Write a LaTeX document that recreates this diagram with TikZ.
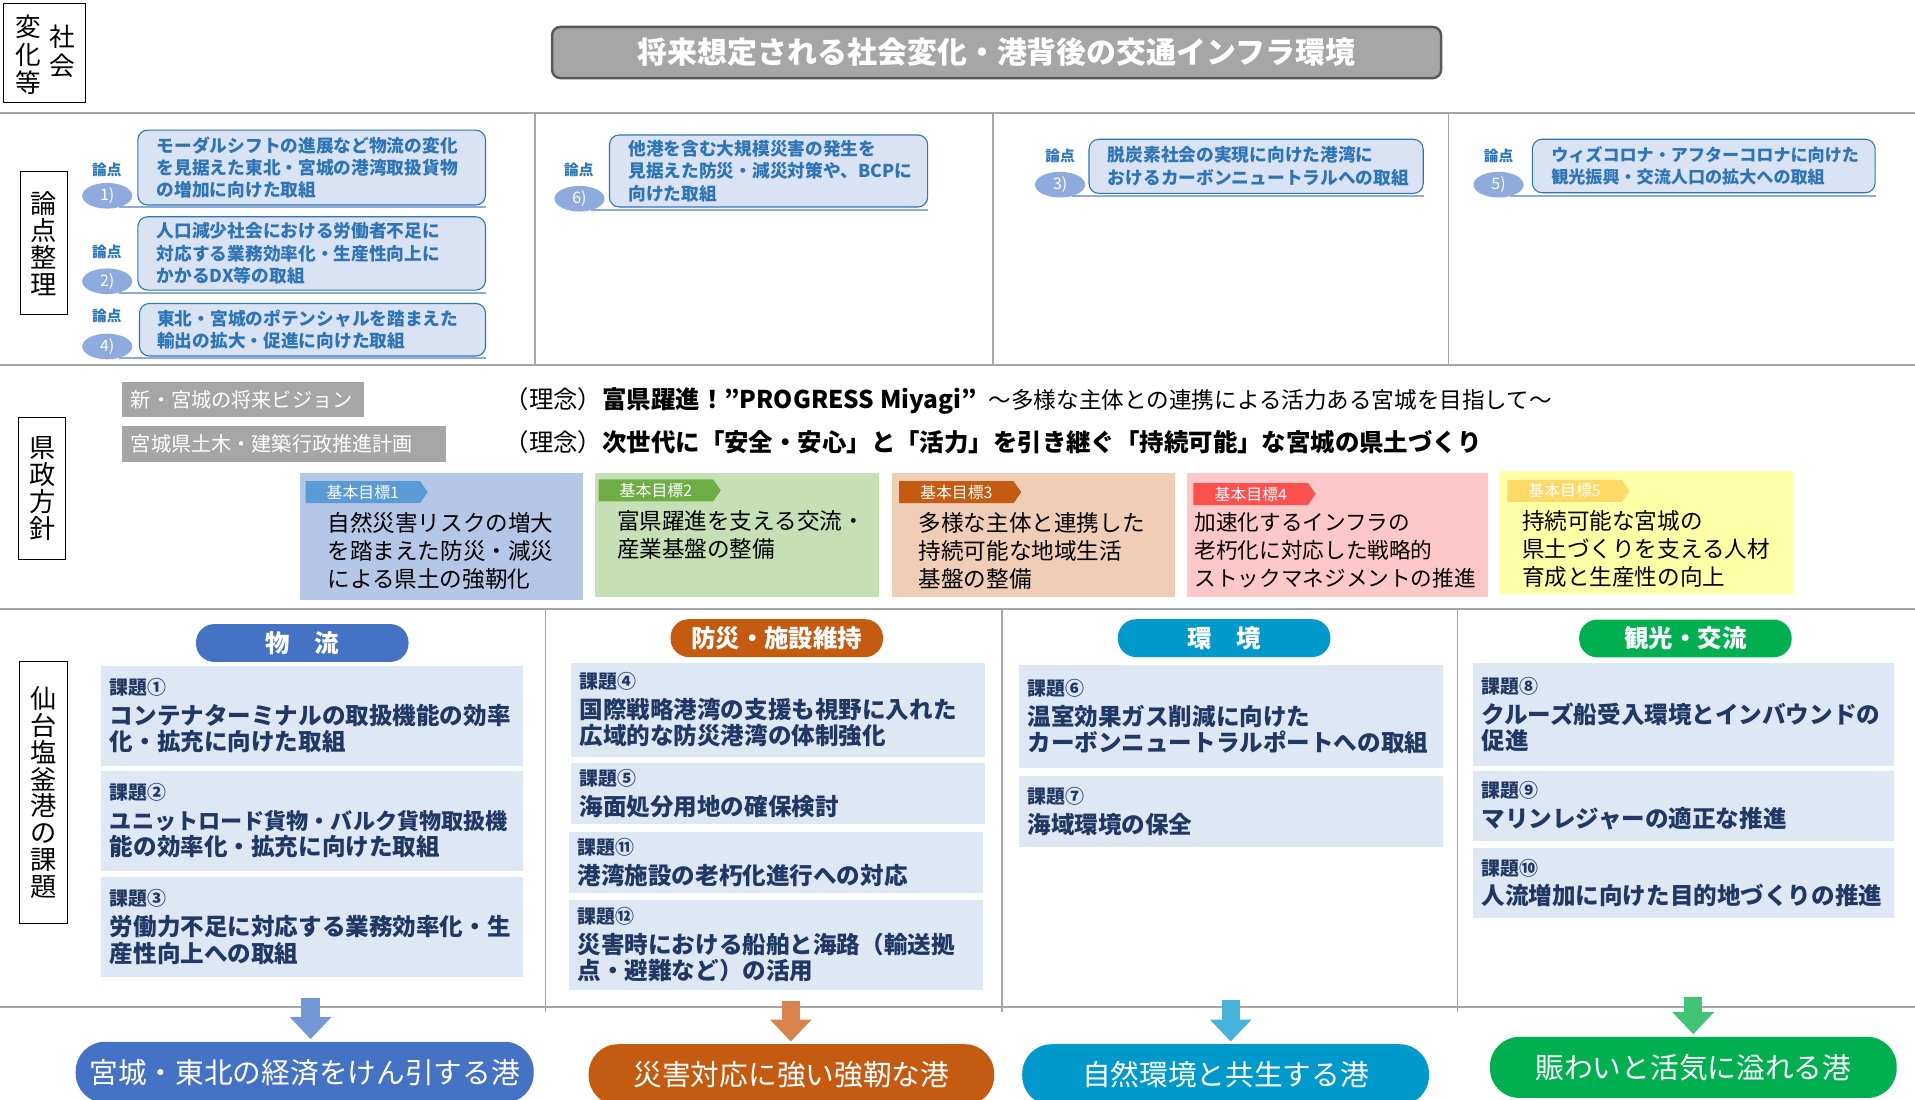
\documentclass[tikz,border=0pt]{standalone}
\usepackage{fontspec}
\setmainfont{Noto Sans CJK JP}
\usetikzlibrary{positioning,shapes.geometric,shapes.symbols,arrows.meta}

\definecolor{ronblue}{HTML}{2E75B6}
\definecolor{ronfill}{HTML}{DAE3F3}
\definecolor{ovalblue}{HTML}{8FAADC}
\definecolor{kadaifill}{HTML}{DDE8F4}
\definecolor{kadaitext}{HTML}{1F3864}
\definecolor{sepgray}{HTML}{A6A6A6}
\definecolor{titleedge}{HTML}{595959}
\definecolor{colbutsu}{HTML}{4472C4}
\definecolor{colbousai}{HTML}{C55A11}
\definecolor{colkankyo}{HTML}{0099CC}
\definecolor{colkanko}{HTML}{00B050}
\definecolor{arrbutsu}{HTML}{7197D7}
\definecolor{arrbousai}{HTML}{D9824C}
\definecolor{arrkankyo}{HTML}{45B3DC}
\definecolor{arrkanko}{HTML}{42C477}
\definecolor{goalA}{HTML}{B4C7E7}
\definecolor{goalB}{HTML}{C5E0B4}
\definecolor{goalC}{HTML}{F0CDB7}
\definecolor{goalD}{HTML}{FFC8C8}
\definecolor{goalE}{HTML}{FFFFA8}
\definecolor{tagA}{HTML}{5B9BD5}
\definecolor{tagB}{HTML}{70AD47}
\definecolor{tagC}{HTML}{C55A11}
\definecolor{tagD}{HTML}{FF5050}
\definecolor{tagE}{HTML}{FFD966}

\newcommand{\kdhead}[1]{{\fontsize{15.5}{15.5}\selectfont #1}}

\begin{document}
\begin{tikzpicture}[x=1pt, y=-1pt,
    sidebox/.style={rectangle, draw=black, fill=white, line width=0.8pt, inner sep=0pt},
    sidetext/.style={align=center, inner sep=0pt, font=\fontsize{21.5}{22}\selectfont},
    sepline/.style={draw=sepgray, line width=1.6pt},
    colline/.style={draw=sepgray, line width=1pt},
    titlebox/.style={rectangle, rounded corners=7pt, draw=titleedge, fill=sepgray, line width=2pt, minimum width=728pt, minimum height=42pt, text=white, font=\bfseries\fontsize{24.5}{24.5}\selectfont},
    ronbox/.style={rectangle, rounded corners=8pt, draw=ronblue, fill=ronfill, line width=0.9pt, align=left, inner xsep=15.5pt, inner ysep=0pt, text=ronblue, font=\bfseries\fontsize{14.5}{18.3}\selectfont},
    ronoval/.style={ellipse, fill=ovalblue, text=white, minimum width=41pt, minimum height=21pt, inner sep=0pt, font=\fontsize{13}{13}\selectfont},
    ronlabel/.style={text=ronblue, inner sep=0pt, font=\bfseries\fontsize{12}{12}\selectfont},
    ronline/.style={draw=ovalblue, line width=1.6pt},
    planbox/.style={rectangle, fill=sepgray, text=white, anchor=west, align=left, inner xsep=7pt, inner ysep=0pt, minimum height=29pt, font=\fontsize{16.5}{16.5}\selectfont},
    rinen/.style={anchor=west, inner sep=0pt, font=\fontsize{20}{20}\selectfont},
    goalbox/.style={rectangle, inner sep=0pt},
    goaltag/.style={signal, signal to=east, signal pointer angle=110, anchor=west, text=white, minimum width=100pt, minimum height=18pt, inner sep=0pt, font=\fontsize{13}{13}\selectfont},
    goaltext/.style={anchor=north west, align=left, inner sep=0pt, font=\fontsize{18.5}{23}\selectfont},
    catpill/.style={rectangle, rounded corners=15pt, minimum width=174pt, minimum height=31pt, inner sep=0pt, text=white, font=\bfseries\fontsize{20}{20}\selectfont},
    kadai/.style={rectangle, fill=kadaifill, align=left, inner xsep=7pt, inner ysep=0pt, text=kadaitext, font=\bfseries\fontsize{19.3}{21.5}\selectfont},
    portpill/.style={rectangle, rounded corners=24pt, minimum height=50pt, inner sep=0pt, text=white, font=\fontsize{23.5}{23.5}\selectfont},
    portarrow/.style={line width=15pt, shorten >=2pt, -{Triangle[width=33pt,length=18pt]}}
]

% page
\fill[white] (0,0) rectangle (1568,900);
\useasboundingbox (0,0) rectangle (1568,900);

% Section rules
\draw[sepline] (0,92.3) -- (1568,92.3);
\draw[sepline] (0,298.5) -- (1568,298.5);
\draw[sepline] (0,498.5) -- (1568,498.5);
\draw[sepline] (0,824.5) -- (1568,824.5);
\draw[colline] (438,92.3) -- (438,298.5);
\draw[colline] (813,92.3) -- (813,298.5);
\draw[colline] (1186,92.3) -- (1186,298.5);
\draw[colline] (446.5,498.5) -- (446.5,829);
\draw[colline] (820.5,498.5) -- (820.5,829);
\draw[colline] (1193.5,498.5) -- (1193.5,829);

% Side labels
\node[sidebox, minimum width=67pt, minimum height=81pt] (shakai) at (36.5,43.5) {};
\node[sidetext, font=\fontsize{21}{23}\selectfont] (shakaiL) at (23,45) {変\\化\\等};
\node[sidetext, font=\fontsize{21}{23}\selectfont] (shakaiR) at (51,42) {社\\会};
\node[sidebox, minimum width=38pt, minimum height=117pt] (ronten) at (36,199.3) {};
\node[sidetext] at (ronten) {論\\点\\整\\理};
\node[sidebox, minimum width=39pt, minimum height=116pt] (kensei) at (34.5,400) {};
\node[sidetext] at (kensei) {県\\政\\方\\針};
\node[sidebox, minimum width=39.6pt, minimum height=214pt] (kadaiside) at (35.6,649) {};
\node[sidetext] at (kadaiside) {仙\\台\\塩\\釜\\港\\の\\課\\題};

% Title
\node[titlebox] (title) at (816,43) {将来想定される社会変化・港背後の交通インフラ環境};

% Ronten boxes
\node[ronbox, minimum width=284.7pt, minimum height=61.3pt, text width=253.7pt] (r1) at (255.2,137.2) {モーダルシフトの進展など物流の変化\\を見据えた東北・宮城の港湾取扱貨物\\の増加に向けた取組};
\node[ronbox, minimum width=284.7pt, minimum height=60pt, text width=253.7pt] (r2) at (255.2,207.5) {人口減少社会における労働者不足に\\対応する業務効率化・生産性向上に\\かかるDX等の取組};
\node[ronbox, minimum width=283.3pt, minimum height=43pt, text width=254.3pt, inner xsep=14.5pt] (r4) at (255.9,270) {東北・宮城のポテンシャルを踏まえた\\輸出の拡大・促進に向けた取組};
\node[ronbox, minimum width=260.5pt, minimum height=59pt, text width=229.5pt] (r6) at (629.3,140) {他港を含む大規模災害の発生を\\見据えた防災・減災対策や、BCPに\\向けた取組};
\node[ronbox, minimum width=273.6pt, minimum height=44.3pt, text width=242.6pt] (r3) at (1028.5,136.2) {脱炭素社会の実現に向けた港湾に\\おけるカーボンニュートラルへの取組};
\node[ronbox, minimum width=280.7pt, minimum height=43.8pt, text width=249.7pt, font=\bfseries\fontsize{14}{18}\selectfont] (r5) at (1395,135.9) {ウィズコロナ・アフターコロナに向けた\\観光振興・交流人口の拡大への取組};

% Ronten ovals and labels
\node[ronoval] (o1) at (87.8,160.3) {1)};
\node[ronoval] (o2) at (87.8,230.3) {2)};
\node[ronoval] (o4) at (87.8,283.7) {4)};
\node[ronoval] (o6) at (474.5,162.7) {6)};
\node[ronoval] (o3) at (868,151.2) {3)};
\node[ronoval] (o5) at (1227,151.2) {5)};
\node[ronlabel] (l1) at (87.5,139) {論点};
\node[ronlabel] (l2) at (87.5,206) {論点};
\node[ronlabel] (l4) at (87.5,259) {論点};
\node[ronlabel] (l6) at (474,139) {論点};
\node[ronlabel] (l3) at (868,128) {論点};
\node[ronlabel] (l5) at (1227,127.5) {論点};
\draw[ronline] (o1.-45) -- (o1.-45 -| r1.east);
\draw[ronline] (o2.-45) -- (o2.-45 -| r2.east);
\draw[ronline] (o4.-45) -- (o4.-45 -| r4.east);
\draw[ronline] (o6.-45) -- (o6.-45 -| r6.east);
\draw[ronline] (o3.-45) -- (o3.-45 -| r3.east);
\draw[ronline] (o5.-45) -- (o5.-45 -| r5.east);

% Prefectural plans
\node[planbox, minimum width=198pt, text width=184pt] (vision) at (100,327) {新・宮城の将来ビジョン};
\node[planbox, minimum width=265pt, text width=251pt] (plan) at (100,363.5) {宮城県土木・建築行政推進計画};
\node[rinen] (rinen1) at (413,328) {（理念）{\bfseries 富県躍進！”PROGRESS Miyagi”}\hspace{10pt}{\fontsize{18.5}{18.5}\selectfont ～多様な主体との連携による活力ある宮城を目指して～}};
\node[rinen] (rinen2) at (413,362) {（理念）{\bfseries 次世代に「安全・安心」と「活力」を引き継ぐ「持続可能」な宮城の県土づくり}};

% Basic goals
\node[goalbox, fill=goalA, minimum width=231pt, minimum height=104pt] (g1) at (361.5,439) {};
\node[goalbox, fill=goalB, minimum width=233pt, minimum height=102pt] (g2) at (603.5,438) {};
\node[goalbox, fill=goalC, minimum width=232pt, minimum height=102pt] (g3) at (846,438) {};
\node[goalbox, fill=goalD, minimum width=246pt, minimum height=102pt] (g4) at (1095,438) {};
\node[goalbox, fill=goalE, minimum width=241pt, minimum height=100.4pt] (g5) at (1347.5,435.8) {};
\node[goaltag, fill=tagA] (t1) at (250,403) {基本目標1};
\node[goaltag, fill=tagB] (t2) at (490,401.5) {基本目標2};
\node[goaltag, fill=tagC] (t3) at (736,403) {基本目標3};
\node[goaltag, fill=tagD] (t4) at (977,404.5) {基本目標4};
\node[goaltag, fill=tagE] (t5) at (1234,402) {基本目標5};
\node[goaltext] (gt1) at (268,419) {自然災害リスクの増大\\を踏まえた防災・減災\\による県土の強靭化};
\node[goaltext] (gt2) at (505,418) {富県躍進を支える交流・\\産業基盤の整備};
\node[goaltext] (gt3) at (752,419) {多様な主体と連携した\\持続可能な地域生活\\基盤の整備};
\node[goaltext, font=\fontsize{17.7}{23}\selectfont] (gt4) at (978,419) {加速化するインフラの\\老朽化に対応した戦略的\\ストックマネジメントの推進};
\node[goaltext] (gt5) at (1246,418) {持続可能な宮城の\\県土づくりを支える人材\\育成と生産性の向上};

% Port issue categories
\node[catpill, fill=colbutsu] (c1) at (247.5,526.5) {物　流};
\node[catpill, fill=colbousai] (c2) at (636,522.5) {防災・施設維持};
\node[catpill, fill=colkankyo] (c3) at (1002.3,522.5) {環　境};
\node[catpill, fill=colkanko] (c4) at (1380,522.75) {観光・交流};

% Issues
\node[kadai, minimum width=345pt, minimum height=82pt, text width=331pt] (k1) at (255.5,586) {\kdhead{課題①}\\[3pt]コンテナターミナルの取扱機能の効率\\化・拡充に向けた取組};
\node[kadai, minimum width=345pt, minimum height=82pt, text width=331pt] (k2) at (255.5,672) {\kdhead{課題②}\\[3pt]{\fontsize{18.1}{21.5}\selectfont ユニットロード貨物・バルク貨物取扱機}\\能の効率化・拡充に向けた取組};
\node[kadai, minimum width=345pt, minimum height=82pt, text width=331pt] (k3) at (255.5,759) {\kdhead{課題③}\\[3pt]労働力不足に対応する業務効率化・生\\産性向上への取組};
\node[kadai, minimum width=339pt, minimum height=77pt, text width=325pt] (k4) at (637,581) {\kdhead{課題④}\\[3pt]国際戦略港湾の支援も視野に入れた\\広域的な防災港湾の体制強化};
\node[kadai, minimum width=339pt, minimum height=50pt, text width=325pt] (k5) at (637,650) {\kdhead{課題⑤}\\[3pt]海面処分用地の確保検討};
\node[kadai, minimum width=339pt, minimum height=50pt, text width=325pt] (k11) at (635.5,706) {\kdhead{課題⑪}\\[3pt]港湾施設の老朽化進行への対応};
\node[kadai, minimum width=339pt, minimum height=73.5pt, text width=325pt] (k12) at (635.5,773.75) {\kdhead{課題⑫}\\[3pt]災害時における船舶と海路（輸送拠\\点・避難など）の活用};
\node[kadai, minimum width=347pt, minimum height=84pt, text width=333pt] (k6) at (1007.85,586.5) {\kdhead{課題⑥}\\[3pt]温室効果ガス削減に向けた\\カーボンニュートラルポートへの取組};
\node[kadai, minimum width=347pt, minimum height=58pt, text width=333pt] (k7) at (1007.85,664.2) {\kdhead{課題⑦}\\[3pt]海域環境の保全};
\node[kadai, minimum width=345pt, minimum height=84.4pt, text width=331pt] (k8) at (1378.5,584.8) {\kdhead{課題⑧}\\[3pt]クルーズ船受入環境とインバウンドの\\促進};
\node[kadai, minimum width=345pt, minimum height=58pt, text width=331pt] (k9) at (1378.5,660) {\kdhead{課題⑨}\\[3pt]マリンレジャーの適正な推進};
\node[kadai, minimum width=345pt, minimum height=58pt, text width=331pt] (k10) at (1378.5,723) {\kdhead{課題⑩}\\[3pt]人流増加に向けた目的地づくりの推進};

% Port visions
\node[portpill, fill=colbutsu, minimum width=375pt] (b1) at (249.5,878) {宮城・東北の経済をけん引する港};
\node[portpill, fill=colbousai, minimum width=332pt] (b2) at (648,880) {災害対応に強い強靭な港};
\node[portpill, fill=colkankyo, minimum width=333pt] (b3) at (1003.5,880) {自然環境と共生する港};
\node[portpill, fill=colkanko, minimum width=333pt] (b4) at (1386.5,874) {賑わいと活気に溢れる港};

% Arrows to visions
\coordinate (a1) at (254.3,817);
\coordinate (a2) at (647.5,820);
\coordinate (a3) at (1007.7,819);
\coordinate (a4) at (1386.4,816);
\draw[portarrow, arrbutsu] (a1) -- (a1 |- b1.north);
\draw[portarrow, arrbousai] (a2) -- (a2 |- b2.north);
\draw[portarrow, arrkankyo] (a3) -- (a3 |- b3.north);
\draw[portarrow, arrkanko] (a4) -- (a4 |- b4.north);

\end{tikzpicture}
\end{document}
